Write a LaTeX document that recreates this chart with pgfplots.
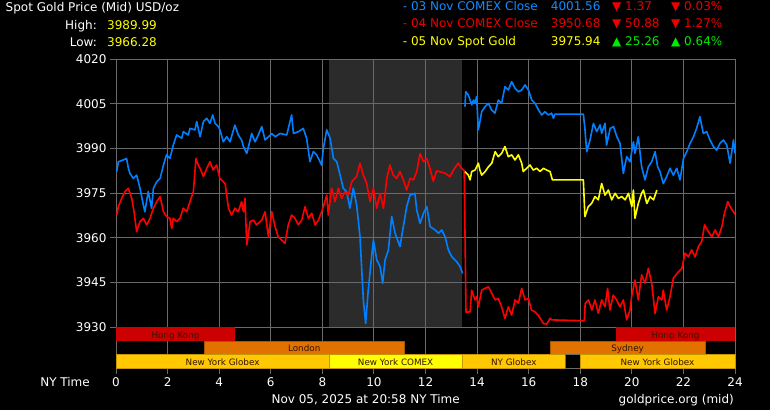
\documentclass[border=0pt]{standalone}
\usepackage{fontspec}
\setmainfont{DejaVu Sans}
\usepackage{pgfplots}
\pgfplotsset{compat=1.18}
\definecolor{bgray}{RGB}{43,43,43}
\definecolor{gridc}{RGB}{105,105,105}
\definecolor{sblue}{RGB}{0,128,255}
\definecolor{sred}{RGB}{255,0,0}
\definecolor{syel}{RGB}{255,255,0}
\definecolor{tblue}{RGB}{20,140,255}
\definecolor{tred}{RGB}{235,0,0}
\definecolor{tgreen}{RGB}{0,235,0}
\definecolor{hkred}{RGB}{204,0,0}
\definecolor{lonor}{RGB}{226,114,0}
\definecolor{lonbd}{RGB}{170,85,0}
\definecolor{nyglob}{RGB}{255,200,0}
\definecolor{nybd}{RGB}{200,150,0}
\definecolor{nycom}{RGB}{255,255,0}
\definecolor{bartext}{RGB}{50,20,0}
\newcommand{\fs}{\fontsize{12}{14}\selectfont}
\newcommand{\fb}{\fontsize{8.8}{10}\selectfont}
\begin{document}
\begin{tikzpicture}[x=1pt,y=1pt]
\fill[black] (0,0) rectangle (770,410);
\useasboundingbox (0,0) rectangle (770,410);
\fill[bgray] (328.8,83) rectangle (462,351);
\begin{axis}[at={(116pt,42pt)}, anchor=south west, scale only axis,
  width=619pt, height=309pt,
  xmin=0, xmax=24, ymin=3916.24, ymax=4020,
  xtick={0,2,...,24}, ytick={3930,3945,...,4020},
  grid=major, major grid style={gridc, line width=0.9pt},
  axis line style={gridc, line width=0.9pt},
  tick style={gridc, line width=0.9pt}, tick align=outside, major tick length=6pt,
  tick pos=left,
  ticklabel style={white, font=\fs},
  /pgf/number format/assume math mode=true,
  /pgf/number format/1000 sep={},
  clip=true]
\addplot[sblue, line width=1.6pt, line join=round] coordinates {
(0.03,3982.2)(0.09,3985.5)(0.28,3986.1)(0.41,3986.6)(0.48,3983.3)(0.54,3981.6)(0.67,3979.9)(0.80,3981.0)(0.93,3976.6)(1.06,3971.0)(1.12,3968.7)(1.25,3975.5)(1.38,3969.9)(1.45,3976.6)(1.58,3978.8)(1.71,3979.9)(1.84,3984.4)(1.96,3987.8)(2.09,3986.6)(2.22,3991.1)(2.35,3994.5)(2.55,3993.4)(2.61,3995.6)(2.80,3994.5)(2.87,3996.7)(3.06,3996.2)(3.13,3999.0)(3.26,3993.9)(3.39,3999.0)(3.52,4000.1)(3.64,3998.4)(3.75,4001.2)(3.84,3998.4)(3.97,3997.3)(4.03,3996.2)(4.16,3992.2)(4.29,3993.9)(4.42,3992.2)(4.61,3997.8)(4.74,3994.5)(4.87,3992.8)(4.94,3990.6)(5.07,3988.3)(5.20,3992.8)(5.26,3995.0)(5.39,3992.2)(5.52,3994.5)(5.65,3997.3)(5.78,3992.8)(5.91,3993.9)(6.04,3995.0)(6.17,3993.9)(6.36,3995.0)(6.62,3994.5)(6.81,4001.2)(6.88,3995.0)(7.07,3995.6)(7.26,3996.7)(7.39,3993.4)(7.52,3985.5)(7.65,3988.9)(7.78,3987.8)(7.91,3985.5)(7.97,3984.4)(8.04,3990.0)(8.17,3996.2)(8.30,3993.4)(8.43,3986.6)(8.56,3985.5)(8.69,3981.0)(8.81,3976.6)(8.94,3975.5)(9.07,3969.9)(9.20,3976.6)(9.33,3971.0)(9.46,3960.3)(9.59,3939.1)(9.68,3931.2)(9.78,3942.4)(9.91,3953.6)(9.98,3959.2)(10.11,3952.5)(10.24,3950.3)(10.34,3944.7)(10.43,3952.5)(10.56,3955.8)(10.69,3967.1)(10.82,3961.5)(11.01,3957.0)(11.14,3963.7)(11.27,3970.4)(11.40,3974.3)(11.59,3974.9)(11.66,3969.3)(11.79,3964.8)(11.92,3968.2)(12.05,3970.4)(12.18,3963.7)(12.37,3962.6)(12.50,3961.5)(12.63,3962.6)(12.76,3960.3)(12.89,3955.8)(13.02,3953.6)(13.21,3951.9)(13.34,3950.3)(13.44,3948.0)
};
\addplot[sblue, line width=1.6pt, line join=round] coordinates {
(13.53,4004.0)(13.56,4009.0)(13.66,4007.9)(13.73,4006.2)(13.79,4004.6)(13.86,4006.2)(13.92,4005.1)(13.98,4007.4)(14.05,3996.2)(14.18,4002.3)(14.31,4004.0)(14.44,4005.1)(14.56,4002.9)(14.69,4001.8)(14.76,4004.0)(14.82,4006.2)(14.95,4005.1)(15.08,4010.7)(15.21,4009.6)(15.34,4012.4)(15.47,4010.2)(15.60,4009.0)(15.73,4009.6)(15.86,4011.3)(15.99,4009.6)(16.12,4006.2)(16.25,4005.1)(16.38,4002.9)(16.51,4001.2)(16.63,4002.3)(16.76,4001.2)(16.89,4001.8)(16.96,4000.1)(17.02,4001.5)(18.12,4001.5)(18.18,3996.7)(18.25,3988.9)(18.38,3992.8)(18.51,3998.4)(18.64,3995.6)(18.77,3997.9)(18.83,3995.0)(18.96,3998.4)(19.02,3991.1)(19.16,3996.7)(19.29,3997.3)(19.42,3993.9)(19.54,3991.7)(19.67,3981.6)(19.80,3987.2)(19.93,3985.5)(20.06,3992.2)(20.12,3988.3)(20.25,3993.9)(20.38,3983.8)(20.51,3979.4)(20.64,3983.8)(20.77,3985.5)(20.90,3988.9)(21.00,3983.8)(21.09,3982.2)(21.22,3978.2)(21.35,3980.5)(21.48,3983.3)(21.61,3981.0)(21.74,3983.3)(21.87,3979.4)(22.00,3986.6)(22.13,3988.9)(22.26,3991.7)(22.39,3993.9)(22.51,3996.7)(22.64,4000.6)(22.77,3995.0)(22.90,3995.6)(23.03,3992.8)(23.16,3990.6)(23.29,3989.4)(23.42,3991.7)(23.55,3992.8)(23.68,3991.1)(23.81,3985.0)(23.94,3992.8)(24.0,3988.3)
};
\addplot[sred, line width=1.6pt, line join=round] coordinates {
(0.03,3967.6)(0.09,3970.4)(0.22,3973.2)(0.35,3975.5)(0.48,3976.6)(0.61,3973.2)(0.70,3968.7)(0.80,3962.0)(0.93,3965.4)(1.06,3966.5)(1.19,3964.3)(1.32,3966.5)(1.45,3969.9)(1.58,3972.1)(1.71,3973.8)(1.84,3968.7)(1.96,3967.1)(2.09,3966.5)(2.16,3963.1)(2.22,3966.5)(2.35,3965.4)(2.48,3966.5)(2.61,3969.9)(2.74,3968.7)(2.87,3972.1)(3.00,3975.5)(3.10,3986.6)(3.19,3984.4)(3.26,3983.3)(3.39,3980.5)(3.52,3983.3)(3.64,3985.5)(3.77,3982.7)(3.90,3984.4)(4.03,3979.9)(4.23,3978.2)(4.36,3969.9)(4.48,3967.6)(4.61,3969.9)(4.74,3968.7)(4.87,3972.1)(4.94,3968.7)(5.00,3973.2)(5.07,3957.5)(5.20,3965.4)(5.33,3965.9)(5.45,3964.3)(5.65,3965.9)(5.78,3968.7)(5.91,3960.3)(6.04,3968.7)(6.17,3963.7)(6.29,3960.3)(6.42,3959.2)(6.55,3958.1)(6.68,3964.3)(6.81,3967.6)(6.94,3966.5)(7.07,3964.3)(7.20,3965.9)(7.33,3970.4)(7.46,3966.5)(7.59,3968.2)(7.72,3964.3)(7.85,3965.9)(7.97,3968.7)(8.04,3970.4)(8.17,3974.3)(8.23,3967.6)(8.36,3976.6)(8.49,3972.1)(8.62,3976.6)(8.75,3973.2)(8.88,3975.5)(9.01,3974.3)(9.14,3978.8)(9.33,3980.5)(9.46,3985.0)(9.59,3981.0)(9.72,3978.2)(9.85,3972.1)(9.98,3976.6)(10.11,3969.9)(10.24,3974.9)(10.37,3969.9)(10.50,3979.9)(10.62,3984.4)(10.75,3981.0)(10.88,3979.9)(11.01,3982.2)(11.14,3979.4)(11.27,3976.0)(11.40,3979.9)(11.53,3979.4)(11.66,3982.2)(11.79,3988.3)(11.92,3985.5)(12.05,3986.6)(12.17,3983.3)(12.30,3979.0)(12.43,3982.4)(12.56,3982.2)(12.76,3981.6)(12.95,3980.5)(13.08,3982.7)(13.27,3985.0)(13.40,3983.3)(13.50,3982.5)(13.57,3935.0)(13.73,3935.1)(13.79,3942.4)(13.92,3939.1)(13.98,3940.2)(14.05,3936.8)(14.18,3942.4)(14.31,3943.0)(14.44,3943.5)(14.57,3941.3)(14.70,3939.1)(14.82,3939.6)(14.95,3936.8)(15.08,3932.9)(15.21,3936.8)(15.34,3934.0)(15.47,3939.1)(15.60,3938.0)(15.73,3943.0)(15.86,3939.1)(15.99,3939.6)(16.11,3935.7)(16.24,3935.1)(16.37,3934.0)(16.57,3931.2)(16.70,3931.0)(16.83,3932.9)(16.89,3932.4)(18.16,3932.1)(18.19,3937.9)(18.32,3939.1)(18.45,3935.7)(18.57,3939.1)(18.70,3934.6)(18.83,3939.1)(18.96,3936.8)(19.06,3943.0)(19.15,3935.7)(19.28,3940.7)(19.41,3939.1)(19.54,3936.8)(19.67,3939.1)(19.80,3932.4)(19.93,3935.7)(19.99,3940.2)(20.12,3945.8)(20.25,3939.1)(20.38,3947.5)(20.51,3944.7)(20.64,3949.7)(20.77,3944.7)(20.90,3934.6)(21.03,3940.2)(21.16,3939.1)(21.22,3942.4)(21.35,3935.7)(21.48,3940.2)(21.61,3946.4)(21.81,3948.6)(21.94,3949.7)(22.06,3954.8)(22.19,3953.6)(22.32,3955.9)(22.45,3953.6)(22.58,3957.0)(22.71,3958.7)(22.82,3964.3)(22.97,3962.0)(23.10,3960.3)(23.23,3962.6)(23.36,3960.3)(23.49,3963.7)(23.59,3968.2)(23.72,3972.1)(23.81,3970.4)(23.94,3968.7)(24.0,3967.8)
};
\addplot[syel, line width=1.6pt, line join=round] coordinates {
(13.53,3982.2)(13.66,3981.0)(13.73,3979.4)(13.79,3982.2)(13.92,3982.7)(14.05,3985.0)(14.11,3982.7)(14.18,3981.0)(14.31,3982.2)(14.44,3983.8)(14.57,3985.0)(14.70,3988.9)(14.82,3987.2)(14.95,3988.3)(15.08,3990.6)(15.21,3987.2)(15.34,3987.8)(15.47,3986.1)(15.60,3987.8)(15.73,3985.0)(15.79,3982.2)(15.92,3983.3)(16.05,3984.4)(16.18,3982.7)(16.31,3983.3)(16.44,3982.2)(16.57,3983.3)(16.70,3982.7)(16.83,3982.2)(16.92,3979.4)(18.12,3979.4)(18.18,3967.1)(18.31,3970.4)(18.44,3971.5)(18.57,3973.8)(18.70,3972.7)(18.83,3978.2)(18.96,3974.3)(19.09,3976.0)(19.22,3972.7)(19.35,3974.9)(19.48,3973.2)(19.61,3973.8)(19.74,3972.7)(19.87,3974.9)(20.00,3970.4)(20.06,3976.0)(20.12,3966.5)(20.25,3971.5)(20.38,3974.9)(20.45,3976.0)(20.58,3971.5)(20.71,3973.8)(20.84,3972.7)(20.97,3976.0)
};
\end{axis}
% session bars
\fill[hkred] (116,69) rectangle (235,83);
\fill[hkred] (616.3,69) rectangle (735,83);
\filldraw[fill=lonor, draw=lonbd, line width=0.7pt] (204,56) rectangle (404.3,69);
\filldraw[fill=lonor, draw=lonbd, line width=0.7pt] (550,56) rectangle (705.3,69);
\filldraw[fill=nyglob, draw=nybd, line width=0.7pt] (116,42) rectangle (329.3,56);
\filldraw[fill=nycom, draw=nybd, line width=0.7pt] (329.3,42) rectangle (462,56);
\filldraw[fill=nyglob, draw=nybd, line width=0.7pt] (462,42) rectangle (565.7,56);
\filldraw[fill=black, draw=gridc, line width=0.9pt] (565.7,42) rectangle (580,56);
\filldraw[fill=nyglob, draw=nybd, line width=0.7pt] (580,42) rectangle (735,56);
\begin{scope}[every node/.style={inner sep=0pt, text=bartext, font=\fb, anchor=base}]
\node at (175.5,71.5) {Hong Kong};
\node at (675.6,71.5) {Hong Kong};
\node at (304.2,59) {London};
\node at (627.6,59) {Sydney};
\node at (222.6,45) {New York Globex};
\node at (395.6,45) {New York COMEX};
\node at (513.8,45) {NY Globex};
\node at (657.5,45) {New York Globex};
\end{scope}
% header and footer texts
\begin{scope}[every node/.style={inner sep=0pt, font=\fs}]
\node[anchor=base west, text=white] at (5.5,398.5) {Spot Gold Price (Mid) USD/oz};
\node[anchor=base east, text=white] at (97,380.7) {High:};
\node[anchor=base west, text=syel] at (107,380.7) {3989.99};
\node[anchor=base east, text=white] at (97,363) {Low:};
\node[anchor=base west, text=syel] at (107,363) {3966.28};
\node[anchor=base west, text=tblue] at (402.7,399) {- 03 Nov COMEX Close};
\node[anchor=base east, text=tblue] at (600.7,399) {4001.56};
\node[anchor=base west, text=tred] at (612,399) {▼ 1.37};
\node[anchor=base west, text=tred] at (671,399) {▼ 0.03\%};
\node[anchor=base west, text=tred] at (402.7,382) {- 04 Nov COMEX Close};
\node[anchor=base east, text=tred] at (600.7,382) {3950.68};
\node[anchor=base west, text=tred] at (612,382) {▼ 50.88};
\node[anchor=base west, text=tred] at (671,382) {▼ 1.27\%};
\node[anchor=base west, text=syel] at (402.7,364.3) {- 05 Nov Spot Gold};
\node[anchor=base east, text=syel] at (600.7,364.3) {3975.94};
\node[anchor=base west, text=tgreen] at (612,364.3) {▲ 25.26};
\node[anchor=base west, text=tgreen] at (671,364.3) {▲ 0.64\%};
\node[anchor=base east, text=white] at (90,23.3) {NY Time};
\node[anchor=base east, text=white] at (460,6.7) {Nov 05, 2025 at 20:58 NY Time};
\node[anchor=base east, text=white] at (734,6.7) {goldprice.org (mid)};
\end{scope}
\end{tikzpicture}
\end{document}
